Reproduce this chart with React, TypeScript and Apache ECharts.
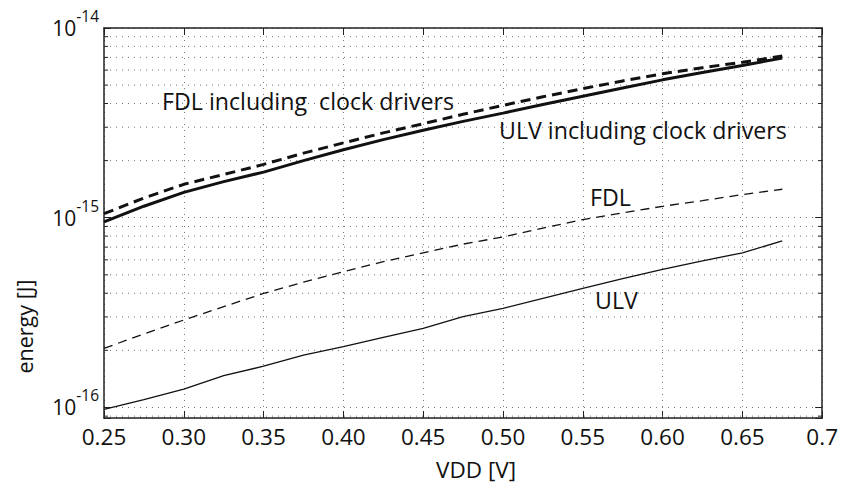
import React, { useEffect, useRef } from 'react';
import * as echarts from 'echarts';

const vdd = [0.25, 0.275, 0.3, 0.325, 0.35, 0.375, 0.4, 0.425, 0.45, 0.475, 0.5, 0.525, 0.55, 0.575, 0.6, 0.625, 0.65, 0.675];
const ulv = [9.78e-17, 1.1e-16, 1.25e-16, 1.47e-16, 1.65e-16, 1.89e-16, 2.09e-16, 2.34e-16, 2.61e-16, 3.01e-16, 3.33e-16, 3.76e-16, 4.24e-16, 4.78e-16, 5.34e-16, 5.93e-16, 6.53e-16, 7.55e-16];
const fdl = [2.05e-16, 2.44e-16, 2.89e-16, 3.4e-16, 3.99e-16, 4.58e-16, 5.19e-16, 5.87e-16, 6.53e-16, 7.26e-16, 7.92e-16, 8.82e-16, 9.78e-16, 1.06e-15, 1.149e-15, 1.23e-15, 1.324e-15, 1.413e-15];
const ulvClk = [9.5e-16, 1.15e-15, 1.36e-15, 1.55e-15, 1.74e-15, 2.0e-15, 2.28e-15, 2.58e-15, 2.89e-15, 3.22e-15, 3.56e-15, 3.95e-15, 4.37e-15, 4.83e-15, 5.33e-15, 5.83e-15, 6.35e-15, 6.94e-15];
const fdlClk = [1.05e-15, 1.27e-15, 1.5e-15, 1.69e-15, 1.91e-15, 2.19e-15, 2.48e-15, 2.8e-15, 3.13e-15, 3.51e-15, 3.91e-15, 4.34e-15, 4.79e-15, 5.26e-15, 5.74e-15, 6.18e-15, 6.6e-15, 7.11e-15];
const minorValues = [9e-17, 2e-16, 3e-16, 4e-16, 5e-16, 6e-16, 7e-16, 8e-16, 9e-16, 2e-15, 3e-15, 4e-15, 5e-15, 6e-15, 7e-15, 8e-15, 9e-15];

const xMin = 0.25;
const xMax = 0.7;
const xStep = 0.05;
const yMin = 8.8e-17;
const yMax = 1e-14;

const annotations = [
  { text: 'FDL including  clock drivers', x: 162, y: 101 },
  { text: 'ULV including clock drivers', x: 499, y: 130 },
  { text: 'FDL', x: 590, y: 197 },
  { text: 'ULV', x: 595, y: 300 },
];

const FONT = '"Open Sans", "Noto Sans", sans-serif';
const INK = '#111';
const GRID = '#777';
const FS = 22.5;

const pair = (ys: number[]) => vdd.map((x, i) => [x, ys[i]]);

export default function App() {
  const ref = useRef<HTMLDivElement>(null);
  useEffect(() => {
    if (!ref.current) return;
    const chart = echarts.init(ref.current, undefined, { renderer: 'svg' });
    const xLabel = (v: number) => {
      const r = Math.round(v * 100) / 100;
      if (Math.abs(r - 0.7) < 1e-9) return '0.7';
      return r.toFixed(2);
    };
    const yLabel = (v: number) => {
      const e = Math.log10(v);
      const r = Math.round(e);
      if (Math.abs(e - r) > 1e-6) return '';
      return `{b|10}{s|${r}}`;
    };
    const axisLine = { show: true, onZero: false, lineStyle: { color: '#222', width: 1.5 } };
    const tick = { show: true, inside: true, length: 7, lineStyle: { color: '#222', width: 1 } };
    const dotted = { show: true, lineStyle: { color: GRID, width: 1, type: [1, 5] as any } };
    const textStyle = (align: string, size: number) => ({ fontSize: size, fontFamily: FONT, fill: INK, align, verticalAlign: 'middle', textAlign: align, textVerticalAlign: 'middle' });
    const option: any = {
      animation: false,
      backgroundColor: '#fff',
      grid: { left: 104, right: 16, top: 28, bottom: 67, containLabel: false },
      xAxis: [
        {
          type: 'value', min: xMin, max: xMax, interval: xStep, position: 'bottom',
          axisLine, axisTick: tick, splitLine: dotted,
          axisLabel: { formatter: xLabel, fontSize: FS, fontFamily: FONT, color: INK, margin: 7 },
        },
        {
          type: 'value', min: xMin, max: xMax, interval: xStep, position: 'top',
          axisLine, axisTick: tick, splitLine: { show: false }, axisLabel: { show: false },
        },
      ],
      yAxis: [
        {
          type: 'log', logBase: 10, min: yMin, max: yMax, position: 'left',
          axisLine, axisTick: tick, splitLine: dotted,
          axisLabel: {
            formatter: yLabel, margin: 5, showMinLabel: true, showMaxLabel: true,
            rich: {
              b: { fontSize: 21, fontFamily: FONT, color: INK, verticalAlign: 'middle' },
              s: { fontSize: 15.5, fontFamily: FONT, color: INK, verticalAlign: 'middle', padding: [0, 0, 24, 0] },
            },
          },
        },
        {
          type: 'log', logBase: 10, min: yMin, max: yMax, position: 'right',
          axisLine, axisTick: tick, splitLine: { show: false }, axisLabel: { show: false },
        },
      ],
      graphic: [
        ...annotations.map((a) => ({
          type: 'text', x: a.x, y: a.y, z: 100,
          style: { text: a.text, ...textStyle('left', 23.2) },
        })),
        {
          type: 'text', x: 24.5, y: 326.5, rotation: Math.PI / 2, z: 100,
          style: { text: 'energy [J]', ...textStyle('center', 21.5) },
        },
        {
          type: 'text', x: 476, y: 469, z: 100,
          style: { text: 'VDD [V]', ...textStyle('center', FS) },
        },
      ],
      series: [
        {
          type: 'custom', name: 'minor', z: 1, silent: true, clip: false,
          data: minorValues.map((v) => [xMin, v]),
          encode: { x: 0, y: 1 },
          renderItem: (params: any, api: any) => {
            const p = api.coord([xMin, api.value(1)]);
            const cs = params.coordSys;
            const y = p[1];
            return {
              type: 'group',
              children: [
                { type: 'line', shape: { x1: cs.x, y1: y, x2: cs.x + cs.width, y2: y }, style: { stroke: GRID, lineWidth: 1, lineDash: [1, 5] } },
                { type: 'line', shape: { x1: cs.x, y1: y, x2: cs.x + 4, y2: y }, style: { stroke: '#222', lineWidth: 1 } },
                { type: 'line', shape: { x1: cs.x + cs.width - 4, y1: y, x2: cs.x + cs.width, y2: y }, style: { stroke: '#222', lineWidth: 1 } },
              ],
            };
          },
        },
        { type: 'line', name: 'ULV', data: pair(ulv), showSymbol: false, z: 3, lineStyle: { color: INK, width: 1.3, type: 'solid' } },
        { type: 'line', name: 'FDL', data: pair(fdl), showSymbol: false, z: 3, lineStyle: { color: INK, width: 1.3, type: [9, 6] } },
        { type: 'line', name: 'ULV including clock drivers', data: pair(ulvClk), showSymbol: false, z: 4, lineStyle: { color: INK, width: 3, type: 'solid' } },
        { type: 'line', name: 'FDL including clock drivers', data: pair(fdlClk), showSymbol: false, z: 4, lineStyle: { color: INK, width: 3, type: [10, 6] } },
      ],
    };
    chart.setOption(option);
    return () => chart.dispose();
  }, []);
  return <div ref={ref} style={{ position: 'fixed', left: 0, top: 0, width: 841, height: 485, background: '#fff' }} />;
}
